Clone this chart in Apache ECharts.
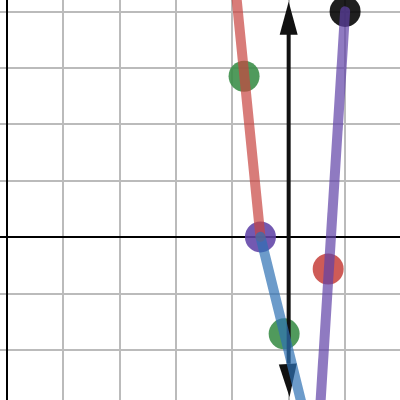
<!DOCTYPE html>
<html>
<head>
<meta charset="utf-8">
<script src="https://cdn.jsdelivr.net/npm/echarts@6/dist/echarts.min.js"></script>
<style>
html,body{margin:0;padding:0;background:#fff;overflow:hidden;width:400px;height:400px;position:relative}
#c{position:absolute;left:-50.4px;top:-45px;width:507.6px;height:451.2px}
</style>
</head>
<body>
<div id="c"></div>
<script>
// Segments (x, y in graph units)
var redLine = [[4, 5], [4.5, 0]];
var blueLine = [[4.5, 0], [5.24, -3]];
var purpleLine = [[6, 4], [5.56, -3]];
// Points
var blackPoints = [[6, 4]];
var purplePoints = [[4.5, 0]];
var greenPoints = [[4.21, 2.85], [4.92, -1.72]];
var redPoints = [[5.70, -0.57]];
// Vertical double arrow at x = 5
var arrowShaft = [[5, -2.25], [5, 3.6]];
var arrowTopTip = [[5, 4.17]];
var arrowBottomTip = [[5, -2.84]];

var chart = echarts.init(document.getElementById('c'), null, {renderer: 'canvas'});
function seg(data, color) {
  return {type: 'line', data: data, showSymbol: false, symbol: 'none', silent: true,
    lineStyle: {color: color, width: 10, opacity: 0.7, cap: 'round'}};
}
function dots(data, color) {
  return {type: 'scatter', data: data, symbolSize: 31, silent: true,
    itemStyle: {color: color, opacity: 0.88}};
}
chart.setOption({
  animation: false,
  backgroundColor: '#fff',
  grid: {left: 0, right: 0, top: 0, bottom: 0, containLabel: false},
  xAxis: {type: 'value', min: -1, max: 8, interval: 1,
    axisLine: {show: true, onZero: true, lineStyle: {color: '#000', width: 2}},
    axisTick: {show: false}, axisLabel: {show: false},
    splitLine: {show: true, lineStyle: {color: '#bbbbbb', width: 2}}},
  yAxis: {type: 'value', min: -3, max: 5, interval: 1,
    axisLine: {show: true, onZero: true, lineStyle: {color: '#000', width: 2}},
    axisTick: {show: false}, axisLabel: {show: false},
    splitLine: {show: true, lineStyle: {color: '#bbbbbb', width: 2}}},
  series: [
    {type: 'line', data: arrowShaft, showSymbol: false, symbol: 'none', silent: true,
      lineStyle: {color: '#111', width: 4, opacity: 1}},
    {type: 'scatter', data: arrowTopTip, symbol: 'triangle', symbolSize: [18, 33],
      symbolOffset: [0, 16.5], silent: true, itemStyle: {color: '#111', opacity: 1}},
    {type: 'scatter', data: arrowBottomTip, symbol: 'triangle', symbolSize: [18, 33],
      symbolRotate: 183, symbolOffset: [0, -16.5], silent: true, itemStyle: {color: '#111', opacity: 1}},
    dots(blackPoints, '#000000'),
    dots(purplePoints, '#6042a6'),
    seg(redLine, '#c74440'),
    seg(blueLine, '#2d70b3'),
    seg(purpleLine, '#6042a6'),
    dots(greenPoints, '#388c46'),
    dots(redPoints, '#c74440')
  ]
});
</script>
</body>
</html>
